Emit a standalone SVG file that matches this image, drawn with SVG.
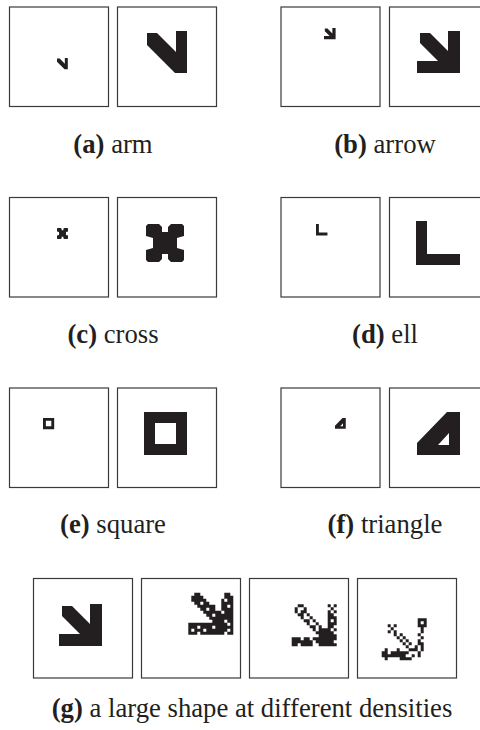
<svg xmlns="http://www.w3.org/2000/svg" width="480" height="730" viewBox="0 0 480 730">
<style>
.box{fill:#fff;stroke:#3a3a3a;stroke-width:1.2}
.ink{fill:#231f20}
text{font-family:'Liberation Serif','DejaVu Serif',serif;font-size:26.7px;fill:#231f20;text-anchor:middle}
.b{font-weight:bold}
</style>
<defs>
<path id="arm" d="M0,2L10,2L29,21L29,0L40,0L40,42L28,42L0,14Z"/>
<path id="arrow" d="M3,2L13,2L31,20L31,0L43,0L43,42L0,42L0,30L21,30L3,12Z"/>
<path id="cross" d="M2,0L13,0L16,3L16,8L22,8L22,3L25,0L36,0L38,2L38,12L31,14L31,24L38,26L38,36L36,38L25,38L22,35L22,30L16,30L16,35L13,38L2,38L0,36L0,26L7,24L7,14L0,12L0,2Z"/>
<path id="ell" d="M0,0H11V33H44V44H0Z"/>
<path id="square" fill-rule="evenodd" d="M0,0H43V43H0Z M11,11V32H32V11Z"/>
<path id="triangle" fill-rule="evenodd" d="M30,0H43V43H0V31Z M32,21V33H21Z"/>
</defs>
<rect width="480" height="730" fill="#fff"/>

<g id="panel-a">
<rect class="box" x="9.5" y="7" width="99" height="99.5"/>
<rect class="box" x="117.5" y="7" width="99" height="99.5"/>
<use href="#arm" class="ink" transform="translate(57,58) scale(0.27)"/>
<use href="#arm" class="ink" transform="translate(147,31)"/>
<text x="113" y="153"><tspan class="b">(a)</tspan> arm</text>
</g>

<g id="panel-b">
<rect class="box" x="281" y="7" width="99" height="99.5"/>
<rect class="box" x="389.5" y="7" width="99" height="99.5"/>
<use href="#arrow" class="ink" transform="translate(324,28) scale(0.27)"/>
<use href="#arrow" class="ink" transform="translate(417,31)"/>
<text x="385" y="153"><tspan class="b">(b)</tspan> arrow</text>
</g>

<g id="panel-c">
<rect class="box" x="9.5" y="197.5" width="99" height="99.5"/>
<rect class="box" x="117.5" y="197.5" width="99" height="99.5"/>
<use href="#cross" class="ink" transform="translate(57,228) scale(0.29)"/>
<use href="#cross" class="ink" transform="translate(146,224)"/>
<text x="113" y="343"><tspan class="b">(c)</tspan> cross</text>
</g>

<g id="panel-d">
<rect class="box" x="281" y="197.5" width="99" height="99.5"/>
<rect class="box" x="389.5" y="197.5" width="99" height="99.5"/>
<use href="#ell" class="ink" transform="translate(316,224) scale(0.26)"/>
<use href="#ell" class="ink" transform="translate(416,221)"/>
<text x="385" y="343"><tspan class="b">(d)</tspan> ell</text>
</g>

<g id="panel-e">
<rect class="box" x="9.5" y="388" width="99" height="99.5"/>
<rect class="box" x="117.5" y="388" width="99" height="99.5"/>
<use href="#square" class="ink" transform="translate(43,418) scale(0.26)"/>
<use href="#square" class="ink" transform="translate(144,412)"/>
<text x="113" y="533"><tspan class="b">(e)</tspan> square</text>
</g>

<g id="panel-f">
<rect class="box" x="281" y="388" width="99" height="99.5"/>
<rect class="box" x="389.5" y="388" width="99" height="99.5"/>
<use href="#triangle" class="ink" transform="translate(335,418) scale(0.25)"/>
<use href="#triangle" class="ink" transform="translate(417,412)"/>
<text x="385" y="533"><tspan class="b">(f)</tspan> triangle</text>
</g>

<g id="panel-g">
<rect class="box" x="33.5" y="578.5" width="99" height="99.5"/>
<rect class="box" x="141.5" y="578.5" width="99" height="99.5"/>
<rect class="box" x="249.5" y="578.5" width="99" height="99.5"/>
<rect class="box" x="357.5" y="578.5" width="99" height="99.5"/>
<use href="#arrow" class="ink" transform="translate(59,604)"/>
<path class="ink" transform="translate(188.3,592.7) scale(3)" d="M2,0h2v1h-2zM12,0h2v1h-2zM1,1h4v1h-4zM12,1h3v1h-3zM1,2h5v1h-5zM11,2h1v1h-1zM13,2h2v1h-2zM2,3h2v1h-2zM5,3h2v1h-2zM11,3h4v1h-4zM3,4h6v1h-6zM11,4h2v1h-2zM14,4h1v1h-1zM4,5h2v1h-2zM7,5h2v1h-2zM11,5h4v1h-4zM5,6h6v1h-6zM12,6h3v1h-3zM6,7h2v1h-2zM9,7h6v1h-6zM7,8h8v1h-8zM8,9h4v1h-4zM13,9h2v1h-2zM0,10h13v1h-13zM14,10h1v1h-1zM0,11h3v1h-3zM4,11h4v1h-4zM9,11h6v1h-6zM0,12h1v1h-1zM2,12h3v1h-3zM6,12h7v1h-7zM14,12h1v1h-1zM0,13h3v1h-3zM4,13h8v1h-8zM13,13h2v1h-2z"/>
<path class="ink" transform="translate(291.7,604.3) scale(3)" d="M2,0h2v1h-2zM12,0h1v1h-1zM14,0h1v1h-1zM1,1h1v1h-1zM4,1h1v1h-1zM13,1h1v1h-1zM1,2h1v1h-1zM3,2h2v1h-2zM12,2h1v1h-1zM14,2h1v1h-1zM2,3h2v1h-2zM5,3h1v1h-1zM12,3h2v1h-2zM3,4h1v1h-1zM6,4h1v1h-1zM12,4h3v1h-3zM4,5h2v1h-2zM7,5h1v1h-1zM12,5h1v1h-1zM14,5h1v1h-1zM5,6h1v1h-1zM8,6h1v1h-1zM12,6h3v1h-3zM6,7h2v1h-2zM9,7h1v1h-1zM12,7h2v1h-2zM7,8h1v1h-1zM9,8h4v1h-4zM14,8h1v1h-1zM8,9h6v1h-6zM9,10h6v1h-6zM0,11h3v1h-3zM4,11h2v1h-2zM7,11h8v1h-8zM0,12h7v1h-7zM8,12h6v1h-6zM0,13h2v1h-2zM3,13h4v1h-4zM9,13h6v1h-6z"/>
<path class="ink" transform="translate(381.7,618.3) scale(3)" d="M12,0h3v1h-3zM12,1h1v1h-1zM14,1h1v1h-1zM2,2h1v1h-1zM4,2h1v1h-1zM12,2h3v1h-3zM3,3h1v1h-1zM13,3h1v1h-1zM2,4h1v1h-1zM4,4h1v1h-1zM13,4h1v1h-1zM4,5h1v1h-1zM6,5h1v1h-1zM12,5h1v1h-1zM5,6h1v1h-1zM7,6h1v1h-1zM13,6h1v1h-1zM6,7h1v1h-1zM8,7h1v1h-1zM12,7h1v1h-1zM7,8h1v1h-1zM9,8h1v1h-1zM12,8h2v1h-2zM8,9h1v1h-1zM11,9h1v1h-1zM13,9h1v1h-1zM1,10h1v1h-1zM5,10h1v1h-1zM9,10h3v1h-3zM13,10h1v1h-1zM0,11h2v1h-2zM3,11h6v1h-6zM12,11h1v1h-1zM0,12h8v1h-8zM10,12h1v1h-1zM12,12h1v1h-1zM1,13h1v1h-1zM6,13h4v1h-4z"/>
<text x="252" y="717"><tspan class="b">(g)</tspan> a large shape at different densities</text>
</g>
</svg>
